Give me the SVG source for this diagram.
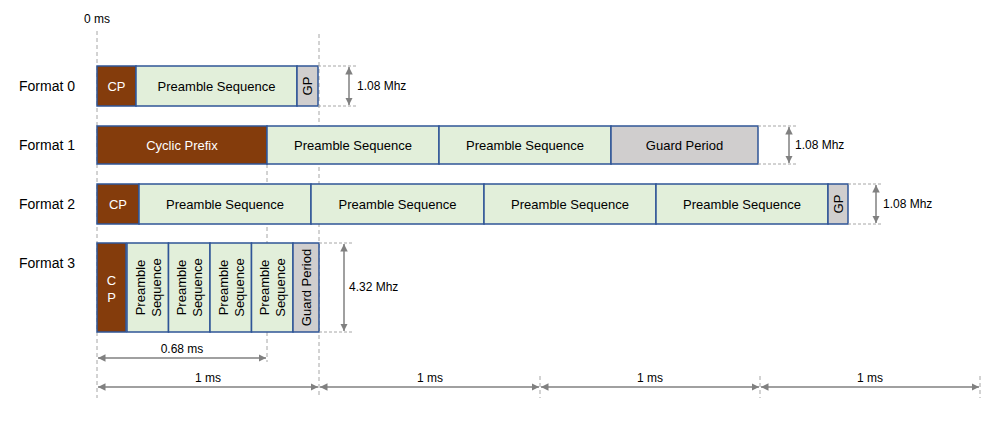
<svg xmlns="http://www.w3.org/2000/svg" width="1007" height="424" viewBox="0 0 1007 424">
<defs>
<style>
text{font-family:"Liberation Sans",Arial,sans-serif;fill:#000;}
.lbl{font-size:14px;}
.t{font-size:13px;text-anchor:middle;dominant-baseline:central;}
.w{fill:#fff;}
.s{font-size:12px;}
.cp{fill:#843C0C;stroke:#2F5597;stroke-width:1.5;}
.ps{fill:#E2EFDA;stroke:#2F5597;stroke-width:1.5;}
.gp{fill:#D0CECE;stroke:#2F5597;stroke-width:1.5;}
.dash{stroke:#A6A6A6;stroke-width:1;stroke-dasharray:4,3;fill:none;}
.dot{stroke:#A6A6A6;stroke-width:1;stroke-dasharray:3,2;fill:none;}
.arr{stroke:#808080;stroke-width:1.5;fill:none;marker-start:url(#ah);marker-end:url(#ah);}
</style>
<marker id="ah" viewBox="0 0 10 10" refX="10" refY="5" markerWidth="5" markerHeight="5" orient="auto-start-reverse" markerUnits="strokeWidth">
<path d="M0,0 L10,5 L0,10 z" fill="#808080"/>
</marker>
</defs>

<g id="guides">
<line class="dash" x1="97" y1="31" x2="97" y2="398"/>
<line class="dash" x1="319" y1="34" x2="319" y2="398"/>
<line class="dash" x1="267" y1="164" x2="267" y2="362"/>
<line class="dash" x1="540" y1="376" x2="540" y2="398"/>
<line class="dash" x1="760" y1="376" x2="760" y2="398"/>
<line class="dash" x1="980" y1="376" x2="980" y2="398"/>
</g>

<text class="s" x="84" y="23">0 ms</text>

<g id="format0">
<text class="lbl" x="19" y="91">Format 0</text>
<rect class="cp" x="97" y="66" width="39" height="40"/>
<text class="t w" x="116.5" y="86">CP</text>
<rect class="ps" x="136" y="66" width="161" height="40"/>
<text class="t" x="216.5" y="86">Preamble Sequence</text>
<rect class="gp" x="297" y="66" width="21" height="40"/>
<text class="t" transform="translate(307.5,86) rotate(-90)" x="0" y="0">GP</text>
</g>

<g id="format1">
<text class="lbl" x="19" y="150">Format 1</text>
<rect class="cp" x="97" y="126" width="170" height="38"/>
<text class="t w" x="182" y="145">Cyclic Prefix</text>
<rect class="ps" x="267" y="126" width="172" height="38"/>
<text class="t" x="353" y="145">Preamble Sequence</text>
<rect class="ps" x="439" y="126" width="172" height="38"/>
<text class="t" x="525" y="145">Preamble Sequence</text>
<rect class="gp" x="611" y="126" width="147" height="38"/>
<text class="t" x="684.5" y="145">Guard Period</text>
</g>

<g id="format2">
<text class="lbl" x="19" y="209">Format 2</text>
<rect class="cp" x="97" y="184" width="42" height="40"/>
<text class="t w" x="118" y="204">CP</text>
<rect class="ps" x="139" y="184" width="172" height="40"/>
<text class="t" x="225" y="204">Preamble Sequence</text>
<rect class="ps" x="311" y="184" width="173" height="40"/>
<text class="t" x="397.5" y="204">Preamble Sequence</text>
<rect class="ps" x="484" y="184" width="172" height="40"/>
<text class="t" x="570" y="204">Preamble Sequence</text>
<rect class="ps" x="656" y="184" width="172" height="40"/>
<text class="t" x="742" y="204">Preamble Sequence</text>
<rect class="gp" x="828" y="184" width="20" height="40"/>
<text class="t" transform="translate(838,204) rotate(-90)" x="0" y="0">GP</text>
</g>

<g id="format3">
<text class="lbl" x="19" y="268">Format 3</text>
<rect class="cp" x="97" y="243" width="29" height="89"/>
<text class="t w" x="111.5" y="280">C</text>
<text class="t w" x="111.5" y="297">P</text>
<rect class="ps" x="127" y="243" width="41.5" height="89"/>
<text class="t" transform="translate(147.75,287.5) rotate(-90)"><tspan x="0" y="-8">Preamble</tspan><tspan x="0" y="8">Sequence</tspan></text>
<rect class="ps" x="168.5" y="243" width="41.5" height="89"/>
<text class="t" transform="translate(189.25,287.5) rotate(-90)"><tspan x="0" y="-8">Preamble</tspan><tspan x="0" y="8">Sequence</tspan></text>
<rect class="ps" x="210" y="243" width="41.5" height="89"/>
<text class="t" transform="translate(230.75,287.5) rotate(-90)"><tspan x="0" y="-8">Preamble</tspan><tspan x="0" y="8">Sequence</tspan></text>
<rect class="ps" x="251.5" y="243" width="41.5" height="89"/>
<text class="t" transform="translate(272.25,287.5) rotate(-90)"><tspan x="0" y="-8">Preamble</tspan><tspan x="0" y="8">Sequence</tspan></text>
<rect class="gp" x="293" y="243" width="26" height="89"/>
<text class="t" transform="translate(306,287.5) rotate(-90)" x="0" y="0">Guard Period</text>
</g>

<g id="connectors">
<line class="dot" x1="318" y1="66" x2="357" y2="66"/>
<line class="dot" x1="318" y1="106" x2="357" y2="106"/>
<line class="arr" x1="349" y1="67" x2="349" y2="105"/>
<line class="dot" x1="758" y1="126" x2="796" y2="126"/>
<line class="dot" x1="758" y1="164" x2="796" y2="164"/>
<line class="arr" x1="789" y1="127" x2="789" y2="163"/>
<line class="dot" x1="848" y1="184" x2="883" y2="184"/>
<line class="dot" x1="848" y1="224" x2="883" y2="224"/>
<line class="arr" x1="876" y1="185" x2="876" y2="223"/>
<line class="dot" x1="319" y1="243" x2="354" y2="243"/>
<line class="dot" x1="319" y1="332" x2="354" y2="332"/>
<line class="arr" x1="344" y1="244" x2="344" y2="331"/>
<line class="arr" x1="98" y1="358" x2="266" y2="358"/>
<line class="arr" x1="98" y1="387" x2="318" y2="387"/>
<line class="arr" x1="320" y1="387" x2="539" y2="387"/>
<line class="arr" x1="541" y1="387" x2="759" y2="387"/>
<line class="arr" x1="761" y1="387" x2="979" y2="387"/>
</g>

<g id="dimlabels">
<text class="s" x="357" y="90">1.08 Mhz</text>
<text class="s" x="795" y="149">1.08 Mhz</text>
<text class="s" x="883" y="208">1.08 Mhz</text>
<text class="s" x="349" y="291">4.32 Mhz</text>
<text class="s" x="182" y="353" text-anchor="middle">0.68 ms</text>
<text class="s" x="208" y="382" text-anchor="middle">1 ms</text>
<text class="s" x="430" y="382" text-anchor="middle">1 ms</text>
<text class="s" x="650" y="382" text-anchor="middle">1 ms</text>
<text class="s" x="870" y="382" text-anchor="middle">1 ms</text>
</g>
</svg>
